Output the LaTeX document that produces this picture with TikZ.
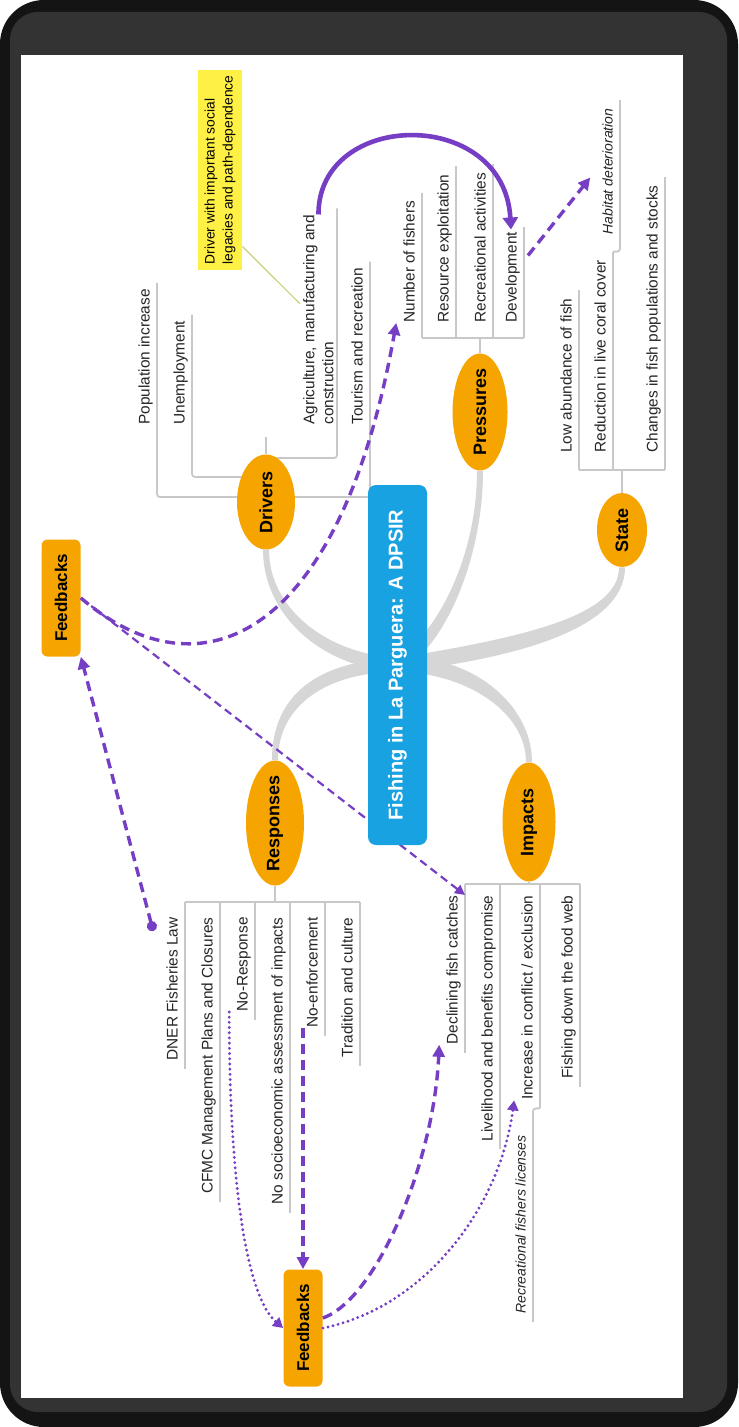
\documentclass[tikz,border=0pt]{standalone}
\usepackage{fontspec}
\setmainfont{Liberation Sans}
\usepackage{tikz}
\usetikzlibrary{positioning,arrows.meta,backgrounds,shapes.geometric}

\definecolor{dpsirorange}{RGB}{246,165,0}
\definecolor{dpsirblue}{RGB}{24,162,226}
\definecolor{dpsirpurple}{RGB}{118,62,196}
\definecolor{twiggray}{RGB}{200,200,200}
\definecolor{branchgray}{RGB}{214,214,214}
\definecolor{noteyellow}{RGB}{255,240,70}
\definecolor{leadergreen}{RGB}{200,210,120}

\newcommand{\itemfont}{\fontsize{7.7}{9.5}\selectfont}
\newcommand{\topicfont}{\fontsize{9}{10}\selectfont\bfseries}

\begin{document}
\begin{tikzpicture}[
  x=0.5pt, y=-0.5pt,
  topic/.style={ellipse, fill=dpsirorange, rotate=90, inner xsep=-3pt, inner ysep=0pt, font=\topicfont},
  hub/.style={fill=dpsirblue, rounded corners=4pt, rotate=90, text=white, font=\fontsize{10}{12}\selectfont\bfseries, minimum width=180pt, minimum height=29.5pt},
  fbbox/.style={fill=dpsirorange, rounded corners=3pt, rotate=90, inner sep=0pt, font=\fontsize{8.5}{10}\selectfont\bfseries, minimum width=58.5pt, minimum height=19.5pt},
  item/.style={rotate=90, inner xsep=0pt, inner ysep=1.5pt, text height=0.75em, text depth=0.2em, font=\itemfont, text=black!85},
  subitem/.style={item, font=\fontsize{7}{8.5}\selectfont\itshape},
  note/.style={fill=noteyellow, rotate=90, align=left, inner sep=1pt, font=\fontsize{6.9}{9}\selectfont, minimum width=100pt, minimum height=22pt},
  twig/.style={draw=twiggray, line width=0.9pt, rounded corners=1.5pt},
  branch/.style={fill=branchgray},
  solidarrow/.style={draw=dpsirpurple, line width=2.3pt, -{Triangle[length=6pt,width=7.5pt]}},
  thickdash/.style={draw=dpsirpurple, line width=1.7pt, dash pattern=on 5pt off 3pt, -{Triangle[length=6pt,width=6pt]}},
  thindash/.style={draw=dpsirpurple, line width=1.1pt, dash pattern=on 4pt off 2.5pt, -{Triangle[length=5pt,width=5pt]}},
  dotline/.style={draw=dpsirpurple, line width=1.6pt, line cap=round, dash pattern=on 0pt off 2.6pt, -{Triangle[length=5pt,width=5.5pt]}}
]
\useasboundingbox (0,0) rectangle (738,1427);

% screen frame
\begin{scope}[on background layer]
  \fill[black!92, rounded corners=22pt] (0,0) rectangle (738,1427);
  \fill[black!80, rounded corners=14pt] (10,12) rectangle (727,1412);
  \fill[white] (21,55) rectangle (683,1398);
\end{scope}

% centre and DPSIR topics
\node[hub] (hub) at (397.5,665) {Fishing in La Parguera: A DPSIR};
\node[topic, minimum width=47.5pt, minimum height=29pt] (drivers) at (266,502) {Drivers};
\node[topic, minimum width=58.5pt, minimum height=27.5pt] (pressures) at (480,412) {Pressures};
\node[topic, minimum width=37pt, minimum height=25pt] (state) at (622,530) {State};
\node[topic, minimum width=62.5pt, minimum height=29pt] (responses) at (275,823) {Responses};
\node[topic, minimum width=59.5pt, minimum height=26.5pt] (impacts) at (529,822) {Impacts};

\node[fbbox] (fbtop) at (61,598) {Feedbacks};
\node[fbbox] (fbbot) at (303,1328) {Feedbacks};

% drivers
\node[item, anchor=south west] (popinc) at (157,425) {Population increase};
\node[item, anchor=south west] (unemp) at (192,425) {Unemployment};
\node[item, anchor=south west, align=left, text height={}, text depth={}] (agric) at (337,425) {Agriculture, manufacturing and\\construction};
\node[item, anchor=south west] (tourism) at (370,425) {Tourism and recreation};
\node[note] (note) at (220,170) {Driver with important social\\legacies and path-dependence};

% pressures
\node[item, anchor=south west] (nfish) at (422,323) {Number of fishers};
\node[item, anchor=south west] (resexp) at (456,323) {Resource exploitation};
\node[item, anchor=south west] (recact) at (493,323) {Recreational activities};
\node[item, anchor=south west] (devel) at (524,323) {Development};

% state
\node[item, anchor=south west] (lowab) at (579,453) {Low abundance of fish};
\node[item, anchor=south west] (coral) at (613,453) {Reduction in live coral cover};
\node[subitem, anchor=south west] (habitat) at (620,235) {Habitat deterioration};
\node[item, anchor=south west] (changes) at (665,453) {Changes in fish populations and stocks};

% responses
\node[item, anchor=south east] (dner) at (185,917) {DNER Fisheries Law};
\node[item, anchor=south east] (cfmc) at (220,917) {CFMC Management Plans and Closures};
\node[item, anchor=south east] (noresp) at (255,917) {No-Response};
\node[item, anchor=south east] (nosocio) at (290,917) {No socioeconomic assessment of impacts};
\node[item, anchor=south east] (noenf) at (325,917) {No-enforcement};
\node[item, anchor=south east] (tradition) at (360,917) {Tradition and culture};

% impacts
\node[item, anchor=south east] (declin) at (465,895) {Declining fish catches};
\node[item, anchor=south east] (liveli) at (500,895) {Livelihood and benefits compromise};
\node[item, anchor=south east] (conflict) at (540,895) {Increase in conflict / exclusion};
\node[item, anchor=south east] (foodweb) at (580,895) {Fishing down the food web};
\node[subitem, anchor=south east] (reclic) at (533,1135) {Recreational fishers licenses};

\begin{scope}[on background layer]
  % main branches
  \fill[branch] ([xshift=1.5pt]drivers.west) .. controls +(0,56) and +(-75,-5) .. ([yshift=3.5pt]hub.center)
    -- ([yshift=-3.5pt]hub.center) .. controls +(-80,-5) and +(0,62) .. ([xshift=-1.5pt]drivers.west) -- cycle;
  \fill[branch] ([xshift=-1.5pt]pressures.west) .. controls +(0,85) and +(40,-25) .. ([yshift=3.5pt]hub.center)
    -- ([yshift=-3.5pt]hub.center) .. controls +(45,-20) and +(0,90) .. ([xshift=1.5pt]pressures.west) -- cycle;
  \fill[branch] ([xshift=-1.5pt]state.west) .. controls +(0,50) and +(120,-20) .. ([yshift=3.5pt]hub.center)
    -- ([yshift=-3.5pt]hub.center) .. controls +(130,-15) and +(0,58) .. ([xshift=1.5pt]state.west) -- cycle;
  \fill[branch] ([xshift=-1.5pt]responses.east) .. controls +(0,-65) and +(-80,3) .. ([yshift=3.5pt]hub.center)
    -- ([yshift=-3.5pt]hub.center) .. controls +(-70,0) and +(0,-55) .. ([xshift=1.5pt]responses.east) -- cycle;
  \fill[branch] ([xshift=1.5pt]impacts.east) .. controls +(0,-60) and +(70,-5) .. ([yshift=3.5pt]hub.center)
    -- ([yshift=-3.5pt]hub.center) .. controls +(65,0) and +(0,-52) .. ([xshift=-1.5pt]impacts.east) -- cycle;

  % drivers tree
  \draw[twig] ([yshift=3pt]popinc.south east) |- ([yshift=2.5pt]drivers.center);
  \draw[twig] ([yshift=3pt]unemp.south east) |- ([yshift=12.5pt]drivers.center);
  \draw[twig] ([yshift=3pt]agric.south east) |- ([yshift=22pt]drivers.center);
  \draw[twig] ([yshift=3pt]tourism.south east) |- ([yshift=2.5pt]drivers.center);
  \draw[twig] (drivers.east) -- ++(0,-17);
  \draw[leadergreen, line width=0.6pt] ([yshift=12pt]note.south west) -- ([yshift=8pt]agric.north);

  % pressures tree
  \coordinate (pbr) at ([yshift=7.5pt]pressures.east);
  \foreach \n in {nfish,resexp,recact}
    \draw[twig] ([yshift=4pt]\n.south east) -- (\n.south west |- pbr);
  \draw[twig] ([yshift=2pt]devel.south east) -- (devel.south west |- pbr);
  \draw[twig] (nfish.south west |- pbr) -- (devel.south west |- pbr);
  \draw[twig] (pressures.east) -- (pbr);

  % state tree
  \coordinate (sbr) at ([yshift=11.5pt]state.east);
  \foreach \n in {lowab,coral,changes}
    \draw[twig] ([yshift=4pt]\n.south east) -- (\n.south west |- sbr);
  \draw[twig] (lowab.south west |- sbr) -- (changes.south west |- sbr);
  \draw[twig] (state.east) -- (sbr);
  \draw[twig] ([yshift=4pt]habitat.south east) |- ([yshift=4pt]coral.south east);

  % responses tree
  \coordinate (rbr) at ([yshift=-8pt]responses.west);
  \foreach \n in {dner,cfmc,noresp,nosocio,noenf,tradition}
    \draw[twig] ([yshift=-4pt]\n.south west) -- (\n.south east |- rbr);
  \draw[twig] (dner.south east |- rbr) -- (tradition.south east |- rbr);
  \draw[twig] (responses.west) -- (rbr);

  % impacts tree
  \coordinate (ibr) at ([yshift=-1pt]impacts.west);
  \foreach \n in {declin,liveli,conflict,foodweb}
    \draw[twig] ([yshift=-4pt]\n.south west) -- (\n.south east |- ibr);
  \draw[twig] (declin.south east |- ibr) -- (foodweb.south east |- ibr);
  \draw[twig] (impacts.west) -- (ibr);
  \draw[twig] ([yshift=-4pt]reclic.south west) |- ([yshift=-4pt]conflict.south west);

  \draw[thindash] (fbtop.south) -- (declin.south east);
\end{scope}

% feedback links
\draw[solidarrow, shorten >=1pt] (agric.east) .. controls +(0,-105) and +(-7,-125) .. (devel.east);
\draw[thickdash] ([shift={(2pt,-12pt)}]devel.south east) -- ([shift={(-2pt,-3pt)}]habitat.north);
\draw[thickdash] (fbtop.south) .. controls (200,700) and (340,640) .. (nfish.north west);
\draw[thickdash, {Circle[length=5pt]}-{Triangle[length=6pt,width=6pt]}] ([shift={(-3pt,-7pt)}]dner.north east) -- (fbtop.south west);
\draw[thickdash] (fbbot.east |- noenf.north west) -- (fbbot.east);
\draw[dotline] (noresp.north west) .. controls +(0,180) and +(-35,-30) .. (fbbot.north);
\draw[thickdash] ([yshift=5pt]fbbot.south) .. controls +(55,-20) and +(-5,115) .. (declin.north west);
\draw[dotline] (fbbot.south) .. controls +(100,-20) and +(-15,110) .. (conflict.north west);
\end{tikzpicture}
\end{document}
